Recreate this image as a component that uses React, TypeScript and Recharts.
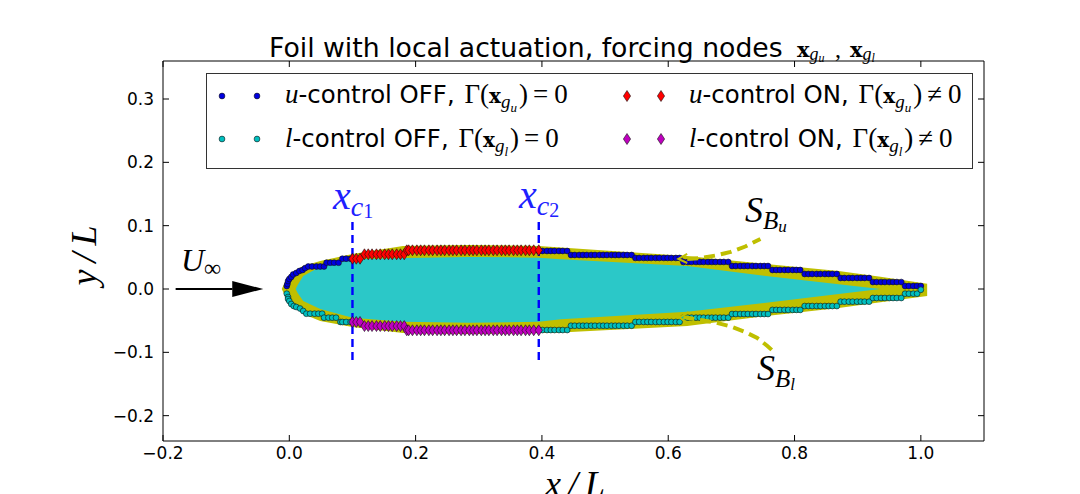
import React from "react";
import { ComposedChart, XAxis, YAxis, Area, Scatter, Line, ReferenceLine, Legend } from "recharts";

const foilX = [-0.012, -0.006, 0.01, 0.013, 0.022, 0.049, 0.1, 0.18, 0.285, 0.395, 0.43, 0.63, 0.755, 0.87, 0.936, 1.01];
const outerUpper = [0, 0.0126, 0.029, 0.0316, 0.0363, 0.0442, 0.0553, 0.068, 0.0695, 0.068, 0.0656, 0.052, 0.0395, 0.0284, 0.0195, 0.0084];
const outerLower = [0, -0.0126, -0.029, -0.0316, -0.0395, -0.0505, -0.06, -0.0695, -0.071, -0.0695, -0.0687, -0.0585, -0.0427, -0.03, -0.021, -0.011];
const innerUpper = [null, null, 0, 0.006, 0.0205, 0.0352, 0.047, 0.049, 0.0506, 0.0495, 0.0469, 0.0363, 0.0205, 0.0075, 0, null];
const innerLower = [null, null, 0, -0.006, -0.019, -0.0316, -0.0453, -0.0517, -0.0533, -0.0517, -0.0479, -0.0359, -0.0216, -0.008, 0, null];

const aftX = [0.395,0.401,0.408,0.414,0.42,0.427,0.433,0.44,0.446,0.452,0.459,0.465,0.471,0.478,0.484,0.491,0.497,0.503,0.51,0.516,0.522,0.529,0.535,0.542,0.548,0.554,0.561,0.567,0.573,0.58,0.586,0.593,0.599,0.605,0.612,0.618,0.624,0.631,0.637,0.644,0.65,0.656,0.663,0.669,0.675,0.682,0.688,0.695,0.701,0.707,0.714,0.72,0.726,0.733,0.739,0.746,0.752,0.758,0.765,0.771,0.777,0.784,0.79,0.797,0.803,0.809,0.816,0.822,0.828,0.835,0.841,0.848,0.854,0.86,0.867,0.873,0.879,0.886,0.892,0.899,0.905,0.911,0.918,0.924,0.93,0.937,0.943,0.95,0.956,0.962,0.969,0.975,0.981,0.988,0.994,1.0];
const aftUpperY = [0.06,0.06,0.06,0.06,0.06,0.06,0.06,0.06,
  0.0537,0.0537,0.0537,0.0537,0.0537,0.0537,0.0537,0.0537,0.0537,0.0537,0.0537,0.0537,0.0537,0.0537,0.0537,0.0537,
  0.049,0.049,0.049,0.049,0.049,0.049,0.049,0.049,0.049,0.049,0.049,0.049,
  0.0427,0.0427,0.0427,0.0427,0.0427,0.0427,0.0427,0.0427,0.0427,0.0427,0.0427,0.0427,
  0.0363,0.0363,0.0363,0.0363,0.0363,0.0363,0.0363,0.0363,0.0363,0.0363,
  0.03,0.03,0.03,0.03,0.03,0.03,0.03,0.03,
  0.0237,0.0237,0.0237,0.0237,0.0237,0.0237,0.0237,0.0237,0.0237,
  0.0174,0.0174,0.0174,0.0174,0.0174,0.0174,0.0174,0.0174,
  0.011,0.011,0.011,0.011,0.011,0.011,0.011,0.011,
  0.0047,0.0047,0.0047,0.0047,0.0047];
const aftLowerY = [-0.0648,-0.0648,-0.0648,-0.0648,-0.0648,-0.0648,-0.0648,-0.0648,
  -0.058,-0.058,-0.058,-0.058,-0.058,-0.058,-0.058,-0.058,-0.058,-0.058,-0.058,-0.058,-0.058,-0.058,-0.058,-0.058,
  -0.052,-0.052,-0.052,-0.052,-0.052,-0.052,-0.052,-0.052,-0.052,-0.052,-0.052,-0.052,
  -0.0453,-0.0453,-0.0453,-0.0453,-0.0453,-0.0453,-0.0453,-0.0453,-0.0453,-0.0453,-0.0453,-0.0453,
  -0.0395,-0.0395,-0.0395,-0.0395,-0.0395,-0.0395,-0.0395,-0.0395,-0.0395,-0.0395,
  -0.033,-0.033,-0.033,-0.033,-0.033,-0.033,-0.033,-0.033,
  -0.0269,-0.0269,-0.0269,-0.0269,-0.0269,-0.0269,-0.0269,-0.0269,-0.0269,
  -0.02,-0.02,-0.02,-0.02,-0.02,-0.02,-0.02,-0.02,
  -0.0142,-0.0142,-0.0142,-0.0142,-0.0142,-0.0142,-0.0142,-0.0142,
  -0.0074,-0.0074,-0.0074,-0.0074,-0.0012];

const noseUpperX = [-0.004,-0.003,-0.002,0,0.003,0.006,0.011,0.016,0.021,0.025,0.03,0.036,0.043,0.049,0.055,0.059,0.065,0.071,0.078,0.084,0.09,0.097];
const noseUpperY = [0.0047,0.008,0.0126,0.0158,0.019,0.0229,0.0253,0.0284,0.03,0.033,0.0355,0.0355,0.0355,0.0355,0.0355,0.0415,0.0415,0.0415,0.0415,0.0478,0.0478,0.0478];
const noseLowerX = [-0.004,-0.002,-0.002,0,0.003,0.007,0.011,0.017,0.022,0.027,0.033,0.04,0.046,0.052,0.055,0.062,0.068,0.074,0.081,0.084,0.09,0.097];
const noseLowerY = [-0.0074,-0.0126,-0.0158,-0.019,-0.0237,-0.0269,-0.0284,-0.0308,-0.0347,-0.039,-0.039,-0.039,-0.039,-0.039,-0.0453,-0.0453,-0.0453,-0.0453,-0.0521,-0.0521,-0.0521,-0.0521];

const actuatedX = [0.1,0.106,0.112,0.119,0.125,0.131,0.138,0.144,0.151,0.157,0.163,0.17,0.176,0.182,0.186,0.189,0.195,0.202,0.208,0.214,0.221,0.227,0.234,0.24,0.246,0.253,0.259,0.265,0.272,0.278,0.285,0.291,0.297,0.304,0.31,0.316,0.323,0.329,0.336,0.342,0.348,0.355,0.361,0.367,0.374,0.38,0.387,0.395];
const actuatedUpperY = [0.0478,0.0478,0.0478,0.0548,0.0548,0.0548,0.0548,0.0548,0.0548,0.0548,0.0548,0.0548,0.0548,0.0548,0.0611,0.0611,0.0611,0.0611,0.0611,0.0611,0.0611,0.0611,0.0611,0.0611,0.0611,0.0611,0.0611,0.0611,0.0611,0.0611,0.0611,0.0611,0.0611,0.0611,0.0611,0.0611,0.0611,0.0611,0.0611,0.0611,0.0611,0.0611,0.0611,0.0611,0.0611,0.0611,0.0611,0.0611];
const actuatedLowerY = [-0.0521,-0.0521,-0.0521,-0.0585,-0.0585,-0.0585,-0.0585,-0.0585,-0.0585,-0.0585,-0.0585,-0.0585,-0.0585,-0.0585,-0.0652,-0.0652,-0.0652,-0.0652,-0.0652,-0.0652,-0.0652,-0.0652,-0.0652,-0.0652,-0.0652,-0.0652,-0.0652,-0.0652,-0.0652,-0.0652,-0.0652,-0.0652,-0.0652,-0.0652,-0.0652,-0.0652,-0.0652,-0.0652,-0.0652,-0.0652,-0.0652,-0.0652,-0.0652,-0.0652,-0.0652,-0.0652,-0.0652,-0.0652];

const xTicks = [-0.2, 0, 0.2, 0.4, 0.6, 0.8, 1.0];
const yTicks = [-0.2, -0.1, 0, 0.1, 0.2, 0.3];

const curveUpperX = [0.63, 0.651, 0.675, 0.699, 0.722, 0.746];
const curveUpperY = [0.0474, 0.049, 0.0529, 0.0585, 0.0671, 0.079];
const curveLowerX = [0.624, 0.651, 0.675, 0.699, 0.722, 0.741, 0.757, 0.766];
const curveLowerY = [-0.0442, -0.049, -0.0529, -0.0592, -0.0679, -0.0774, -0.09, -0.098];

const headUpperX = [0.63, 0.616, 0.63];
const headUpperY = [0.0553, 0.0474, 0.0411];
const headLowerX = [0.632, 0.618, 0.632];
const headLowerY = [-0.0363, -0.045, -0.0553];

const arrowX = [-0.18, -0.09];
const arrowY = [0, 0];
const arrowTip = [{ x: -0.065, y: 0 }];

const zip = (xs: number[], ys: number[]) => xs.map((x, i) => ({ x, y: ys[i] }));

const foilData = foilX.map((x, i) => ({
  x,
  outer: [outerLower[i], outerUpper[i]],
  inner: innerUpper[i] === null ? null : [innerLower[i], innerUpper[i]],
}));

const BLUE = "#0000e0";
const CYAN = "#00bfbf";
const RED = "#ff0000";
const MAG = "#bf00bf";
const YEL = "#bfbf00";
const INNER = "#2bc8c8";
const SANS = "'DejaVu Sans', sans-serif";
const SERIF = "'Liberation Serif', serif";
const BOLD = "'DejaVu Serif', serif";
const CHART_W = 1080, CHART_H = 494;

const Dot = (p: any) => <circle cx={p.cx} cy={p.cy} r={2.9} fill={p.fill} stroke="#111" strokeWidth={0.6} />;
const Diamond = (p: any) => (
  <path d={`M${p.cx} ${p.cy - 5.5}L${p.cx + 3.6} ${p.cy}L${p.cx} ${p.cy + 5.5}L${p.cx - 3.6} ${p.cy}Z`} fill={p.fill} stroke="#111" strokeWidth={0.6} />
);
const ArrowHead = (p: any) => (
  <path d={`M${p.cx - 16} ${p.cy - 8}L${p.cx + 15} ${p.cy}L${p.cx - 16} ${p.cy + 8}Z`} fill="#000" />
);
const NoMark = () => null;

const XTick = (p: any) => (
  <g>
    <line x1={p.x} x2={p.x} y1={p.y} y2={p.y - 6} stroke="#000" />
    <text x={p.x} y={p.y + 18} textAnchor="middle" fontFamily={SANS} fontSize={17} fill="#000">
      {p.payload.value.toFixed(1).replace("-", "\u2212")}
    </text>
  </g>
);
const YTick = (p: any) => (
  <g>
    <line x1={p.x} x2={p.x + 6} y1={p.y} y2={p.y} stroke="#000" />
    <text x={p.x - 9} y={p.y + 6} textAnchor="end" fontFamily={SANS} fontSize={17} fill="#000">
      {p.payload.value.toFixed(1).replace("-", "\u2212")}
    </text>
  </g>
);
const XTickTop = (p: any) => <line x1={p.x} x2={p.x} y1={p.y} y2={p.y + 6} stroke="#000" />;
const YTickRight = (p: any) => <line x1={p.x} x2={p.x - 6} y1={p.y} y2={p.y} stroke="#000" />;

const Gamma = ({ sub, rel, x, y }: { sub: string; rel: string; x: number; y: number }) => (
  <text x={x} y={y} fontFamily={SERIF} fontSize={27} fill="#000">
    <tspan fontStyle="italic">{sub}</tspan>
    <tspan fontFamily={SANS} fontSize={24.4}>-control {rel === "=" ? "OFF" : "ON"}, </tspan>
    <tspan dx={2}>Γ(</tspan>
    <tspan fontWeight="bold" fontFamily={BOLD} fontSize={20}>x</tspan>
    <tspan fontStyle="italic" fontSize={19} dy={5}>g</tspan>
    <tspan fontStyle="italic" fontSize={13} dy={4}>{sub}</tspan>
    <tspan dy={-9} dx={2}>)</tspan>
    <tspan dx={5}>{rel === "=" ? "=" : "≠"}</tspan>
    <tspan dx={6}>0</tspan>
  </text>
);

const LegendBox = () => (
  <svg width={CHART_W} height={CHART_H} style={{ display: "block" }}>
    <rect x={206.5} y={73.5} width={766} height={95} fill="#fff" stroke="#000" strokeOpacity={0.8} />
    <Dot cx={222} cy={96} fill={BLUE} /><Dot cx={257} cy={96} fill={BLUE} />
    <Dot cx={222} cy={139} fill={CYAN} /><Dot cx={257} cy={139} fill={CYAN} />
    <Diamond cx={627} cy={96} fill={RED} /><Diamond cx={661} cy={96} fill={RED} />
    <Diamond cx={627} cy={139} fill={MAG} /><Diamond cx={661} cy={139} fill={MAG} />
    <Gamma sub="u" rel="=" x={285} y={103} />
    <Gamma sub="l" rel="=" x={285} y={147} />
    <Gamma sub="u" rel="≠" x={689} y={103} />
    <Gamma sub="l" rel="≠" x={689} y={147} />
  </svg>
);

const Overlay = () => (
  <svg width={CHART_W} height={CHART_H} style={{ position: "absolute", left: 0, top: 0, pointerEvents: "none" }}>
    <text x={269} y={57} fontFamily={SANS} fontSize={26.7} fill="#000">
      Foil with local actuation, forcing nodes
      <tspan x={797} fontWeight="bold" fontFamily={BOLD} fontSize={21}>x</tspan>
      <tspan fontFamily={SERIF} fontStyle="italic" fontSize={18} dy={3}>g</tspan>
      <tspan fontFamily={SERIF} fontStyle="italic" fontSize={12} dy={2}>u</tspan>
      <tspan x={835} fontFamily={SERIF} fontSize={24} dy={-5}>,</tspan>
      <tspan x={850} fontWeight="bold" fontFamily={BOLD} fontSize={21}>x</tspan>
      <tspan fontFamily={SERIF} fontStyle="italic" fontSize={18} dy={3}>g</tspan>
      <tspan fontFamily={SERIF} fontStyle="italic" fontSize={12} dy={2}>l</tspan>
    </text>
    <text x={333} y={209} fontFamily={SERIF} fontStyle="italic" fontSize={40} fill="#2020ff">
      x<tspan fontSize={28} dy={7}>c</tspan><tspan fontStyle="normal" fontSize={20} dy={2}>1</tspan>
    </text>
    <text x={519} y={208} fontFamily={SERIF} fontStyle="italic" fontSize={40} fill="#2020ff">
      x<tspan fontSize={28} dy={7}>c</tspan><tspan fontStyle="normal" fontSize={20} dy={2}>2</tspan>
    </text>
    <text x={745} y={222} fontFamily={SERIF} fontStyle="italic" fontSize={36} fill="#000">
      S<tspan fontSize={25} dy={7}>B</tspan><tspan fontSize={17} dy={3}>u</tspan>
    </text>
    <text x={757} y={380} fontFamily={SERIF} fontStyle="italic" fontSize={36} fill="#000">
      S<tspan fontSize={25} dy={7}>B</tspan><tspan fontSize={17} dy={3}>l</tspan>
    </text>
    <text x={181} y={271} fontFamily={SERIF} fontStyle="italic" fontSize={32} fill="#000">
      U<tspan fontStyle="normal" fontSize={24} dy={5}>∞</tspan>
    </text>
    <text x={545} y={496} fontFamily={SERIF} fontStyle="italic" fontSize={36} letterSpacing={7} fill="#000">x/L</text>
    <text transform="translate(96,252) rotate(-90)" textAnchor="middle" fontFamily={SERIF} fontStyle="italic" fontSize={36} letterSpacing={7} fill="#000">y/L</text>
  </svg>
);

export default function App() {
  return (
    <div style={{ position: "absolute", left: 0, top: 0, width: CHART_W, height: CHART_H, overflow: "hidden", background: "#fff" }}>
      <ComposedChart width={CHART_W} height={CHART_H} data={foilData} margin={{ left: 162, right: 95, top: 60, bottom: 52 }}>
        <XAxis dataKey="x" type="number" domain={[-0.2, 1.1]} ticks={xTicks} height={1} allowDataOverflow axisLine={{ stroke: "#000" }} tickLine={false} tickSize={0} tickMargin={0} tick={<XTick />} interval={0} />
        <XAxis xAxisId="top" orientation="top" dataKey="x" type="number" domain={[-0.2, 1.1]} ticks={xTicks} height={1} allowDataOverflow axisLine={{ stroke: "#000" }} tickLine={false} tickSize={0} tickMargin={0} tick={<XTickTop />} interval={0} />
        <YAxis dataKey="y" type="number" domain={[-0.24, 0.36]} ticks={yTicks} width={1} allowDataOverflow axisLine={{ stroke: "#000" }} tickLine={false} tickSize={0} tickMargin={0} tick={<YTick />} interval={0} />
        <YAxis yAxisId="right" orientation="right" dataKey="y" type="number" domain={[-0.24, 0.36]} ticks={yTicks} width={1} allowDataOverflow axisLine={{ stroke: "#000" }} tickLine={false} tickSize={0} tickMargin={0} tick={<YTickRight />} interval={0} />
        <Area dataKey="outer" type="linear" fill={YEL} fillOpacity={1} stroke="none" isAnimationActive={false} dot={false} activeDot={false} legendType="none" />
        <Area dataKey="inner" type="linear" fill={INNER} fillOpacity={1} stroke="none" isAnimationActive={false} dot={false} activeDot={false} legendType="none" />
        <Scatter data={zip(noseUpperX, noseUpperY)} fill={BLUE} shape={<Dot />} isAnimationActive={false} />
        <Scatter data={zip(aftX, aftUpperY)} fill={BLUE} shape={<Dot />} isAnimationActive={false} />
        <Scatter data={zip(noseLowerX, noseLowerY)} fill={CYAN} shape={<Dot />} isAnimationActive={false} />
        <Scatter data={zip(aftX, aftLowerY)} fill={CYAN} shape={<Dot />} isAnimationActive={false} />
        <Scatter data={zip(actuatedX, actuatedUpperY)} fill={RED} shape={<Diamond />} isAnimationActive={false} />
        <Scatter data={zip(actuatedX, actuatedLowerY)} fill={MAG} shape={<Diamond />} isAnimationActive={false} />
        <Scatter data={zip(curveUpperX, curveUpperY)} shape={<NoMark />} line={{ stroke: YEL, strokeWidth: 4, strokeDasharray: "11 6" }} isAnimationActive={false} />
        <Scatter data={zip(curveLowerX, curveLowerY)} shape={<NoMark />} line={{ stroke: YEL, strokeWidth: 4, strokeDasharray: "11 6" }} isAnimationActive={false} />
        <Scatter data={zip(headUpperX, headUpperY)} shape={<NoMark />} line={{ stroke: YEL, strokeWidth: 2 }} isAnimationActive={false} />
        <Scatter data={zip(headLowerX, headLowerY)} shape={<NoMark />} line={{ stroke: YEL, strokeWidth: 2 }} isAnimationActive={false} />
        <ReferenceLine segment={[{ x: 0.1, y: -0.112 }, { x: 0.1, y: 0.107 }]} stroke="#0000ff" strokeWidth={2.4} strokeDasharray="8 5" />
        <ReferenceLine segment={[{ x: 0.395, y: -0.112 }, { x: 0.395, y: 0.107 }]} stroke="#0000ff" strokeWidth={2.4} strokeDasharray="8 5" />
        <Line data={zip(arrowX, arrowY)} dataKey="y" type="linear" stroke="#000" strokeWidth={2} dot={false} activeDot={false} isAnimationActive={false} />
        <Scatter data={arrowTip} shape={<ArrowHead />} isAnimationActive={false} />
        <Legend layout="horizontal" verticalAlign="middle" content={<LegendBox />} wrapperStyle={{ position: "absolute", left: 0, top: 0, width: CHART_W, height: 0, margin: 0 }} />
      </ComposedChart>
      <Overlay />
    </div>
  );
}
